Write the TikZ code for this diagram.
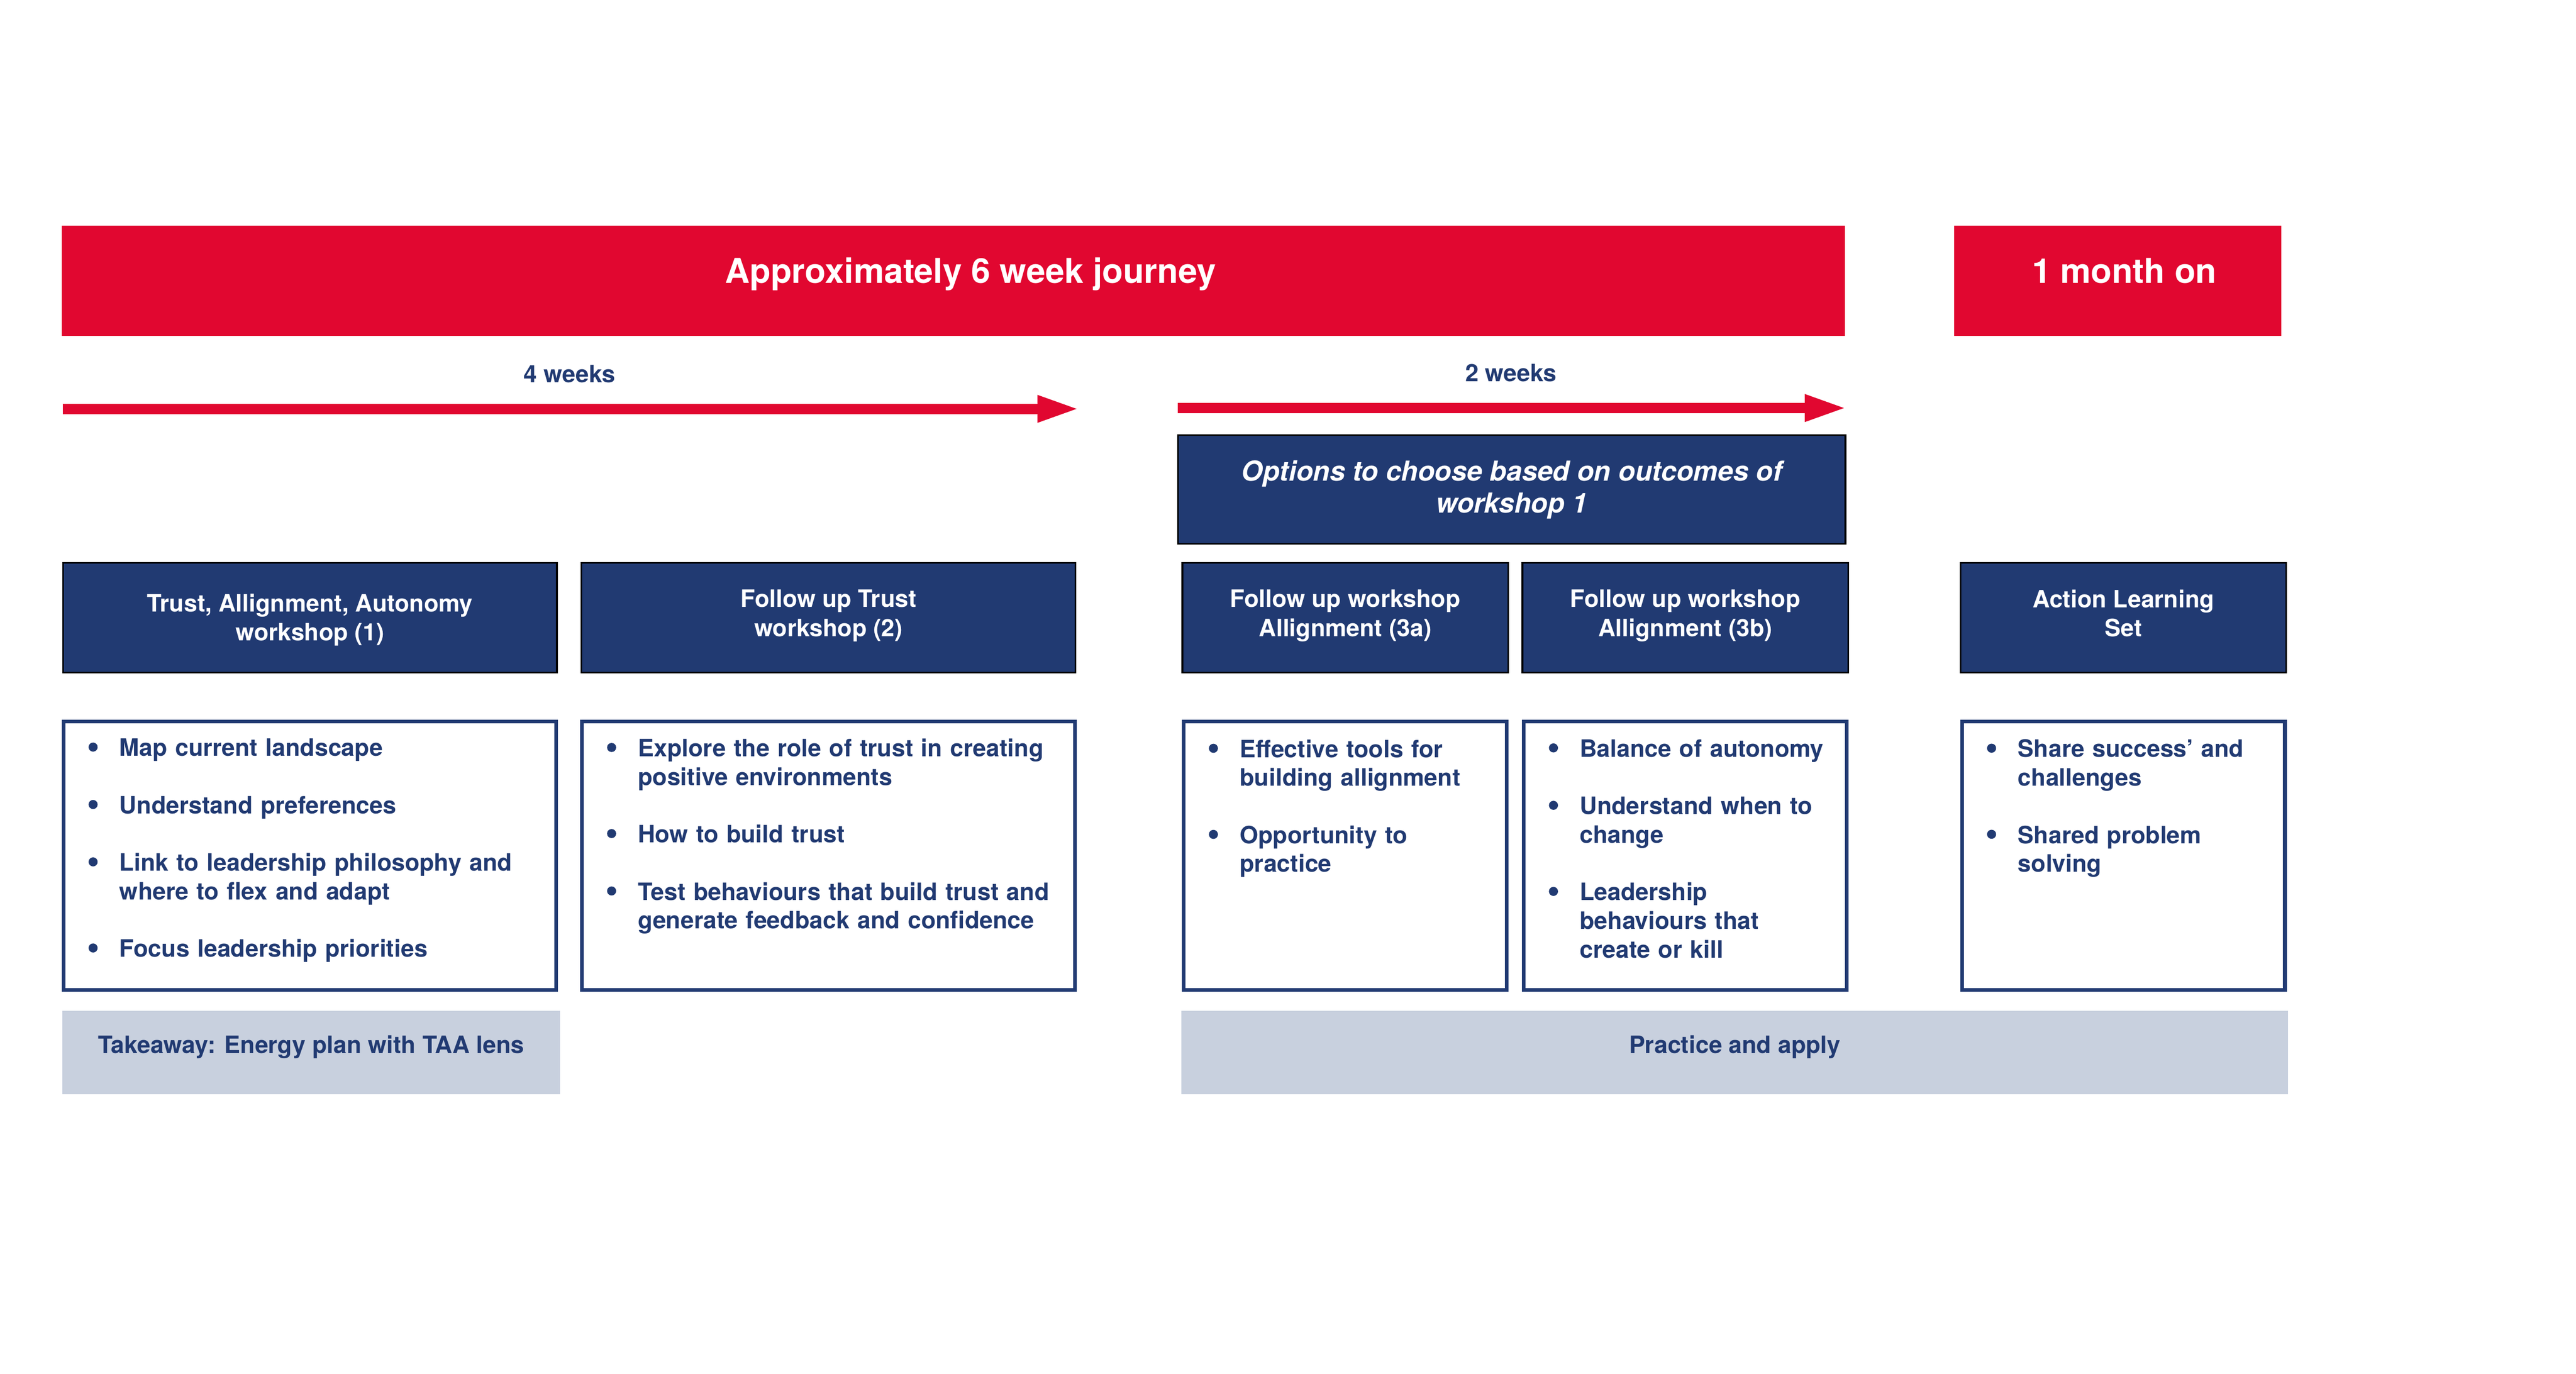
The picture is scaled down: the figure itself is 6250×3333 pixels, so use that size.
\documentclass[tikz,border=0pt]{standalone}
\usepackage{fontspec}
\setmainfont{TeX Gyre Heros}
\usepackage{tikz}
\usetikzlibrary{arrows.meta,positioning}
\definecolor{journeyred}{RGB}{225,7,48}
\definecolor{navy}{RGB}{33,58,114}
\definecolor{paleblue}{RGB}{200,208,222}
\newcommand{\bdot}{\tikz[baseline=0pt]\fill[navy] (.11cm,.22cm) circle (.11cm);}
\newcommand{\bpoint}[1]{\noindent\hangindent=.75cm\hangafter=1\makebox[.75cm][l]{\bdot}#1\par\vspace{19.8pt}}
\tikzset{
    red-banner/.style = {fill=journeyred, minimum height=2.67cm, inner sep=0pt},
    banner-text/.style = {text=white, font=\fontsize{23.6pt}{28pt}\selectfont\bfseries, inner sep=0pt, text height=.6cm, text depth=.5cm},
    head-box/.style = {draw=black, line width=.04cm, fill=navy, text=white, font=\fontsize{16.5pt}{20pt}\selectfont\bfseries, align=center, minimum height=2.66cm, inner sep=0pt, text depth=.22cm},
    list-box/.style = {draw=navy, line width=.09cm, fill=white, minimum height=6.51cm, inner sep=0pt},
    list-text/.style = {anchor=north west, text=navy, font=\fontsize{16.5pt}{19.8pt}\selectfont\bfseries, align=left, inner sep=0pt},
    note-box/.style = {fill=paleblue, text=navy, font=\fontsize{16.5pt}{20pt}\selectfont\bfseries, minimum height=2.02cm, inner sep=0pt, text height=.42cm, text depth=.38cm},
    time-arrow/.style = {draw=journeyred, line width=.25cm, -{Triangle[length=.95cm,width=.68cm,line width=0pt]}},
    week-label/.style = {midway, anchor=base, yshift=.64cm, text=navy, font=\fontsize{16.5pt}{20pt}\selectfont\bfseries},
}
\begin{document}
\begin{tikzpicture}[x=0.01cm,y=-0.01cm]
\useasboundingbox (0,0) rectangle (6250,3333);

% banners
\node[red-banner, minimum width=43.23cm, label={[banner-text, xshift=.42cm]center:Approximately 6 week journey}] (journey) at (2313,681.5) {};
\node[red-banner, minimum width=7.93cm, label={[banner-text, xshift=.16cm]center:1 month on}] (monthon) at (5138,681.5) {};

% timeline arrows
\coordinate (w4start) at (152,992);
\coordinate (w4end) at (2612,992);
\coordinate (w2start) at (2858,990);
\coordinate (w2end) at (4474,990);
\draw[time-arrow] (w4start) -- node[week-label] {4 weeks} (w4end);
\draw[time-arrow] (w2start) -- node[week-label] {2 weeks} (w2end);

\node[head-box, minimum width=16.18cm, minimum height=2.63cm, text depth=.14cm, font=\fontsize{19pt}{22pt}\selectfont\bfseries\itshape] (options) at (3668,1187.5) {Options to choose based on outcomes of\\ workshop 1};

% workshop headers
\node[head-box, minimum width=11.98cm, text depth=.02cm] (h1) at (752,1498.5) {Trust, Allignment, Autonomy\\ workshop (1)};
\node[head-box, minimum width=11.98cm] (h2) at (2010,1498.5) {Follow up Trust\\ workshop (2)};
\node[head-box, minimum width=7.9cm] (h3a) at (3264,1498.5) {Follow up workshop\\ Allignment (3a)};
\node[head-box, minimum width=7.9cm] (h3b) at (4089,1498.5) {Follow up workshop\\ Allignment (3b)};
\node[head-box, minimum width=7.9cm] (hals) at (5152,1498.5) {Action Learning\\ Set};

% content boxes
\node[list-box, minimum width=11.95cm, below=1.12cm of h1] (c1) {};
\node[list-box, minimum width=11.95cm, below=1.12cm of h2] (c2) {};
\node[list-box, minimum width=7.83cm, below=1.12cm of h3a] (c3a) {};
\node[list-box, minimum width=7.83cm, below=1.12cm of h3b] (c3b) {};
\node[list-box, minimum width=7.83cm, below=1.12cm of hals] (cals) {};

\node[list-text, text width=11cm] (t1) at ([xshift=.645cm,yshift=-.46cm]c1.north west) {%
\bpoint{Map current landscape}
\bpoint{Understand preferences}
\bpoint{Link to leadership philosophy and\newline where to flex and adapt}
\bpoint{Focus leadership priorities}};
\node[list-text, text width=11cm] (t2) at ([xshift=.645cm,yshift=-.46cm]c2.north west) {%
\bpoint{Explore the role of trust in creating\newline positive environments}
\bpoint{How to build trust}
\bpoint{Test behaviours that build trust and\newline generate feedback and confidence}};
\node[list-text, text width=7.2cm] (t3a) at ([xshift=.645cm,yshift=-.48cm]c3a.north west) {%
\bpoint{Effective tools for\newline building allignment}
\bpoint{Opportunity to\newline practice}};
\node[list-text, text width=7.2cm] (t3b) at ([xshift=.645cm,yshift=-.48cm]c3b.north west) {%
\bpoint{Balance of autonomy}
\bpoint{Understand when to\newline change}
\bpoint{Leadership\newline behaviours that\newline create or kill}};
\node[list-text, text width=7.2cm] (tals) at ([xshift=.645cm,yshift=-.48cm]cals.north west) {%
\bpoint{Share success’ and\newline challenges}
\bpoint{Shared problem\newline solving}};

% outcomes
\node[note-box, minimum width=12.06cm] (takeaway) at (755,2554) {Takeaway: Energy plan with TAA lens};
\node[note-box, minimum width=26.84cm] (practice) at (4209,2554) {Practice and apply};
\end{tikzpicture}
\end{document}
